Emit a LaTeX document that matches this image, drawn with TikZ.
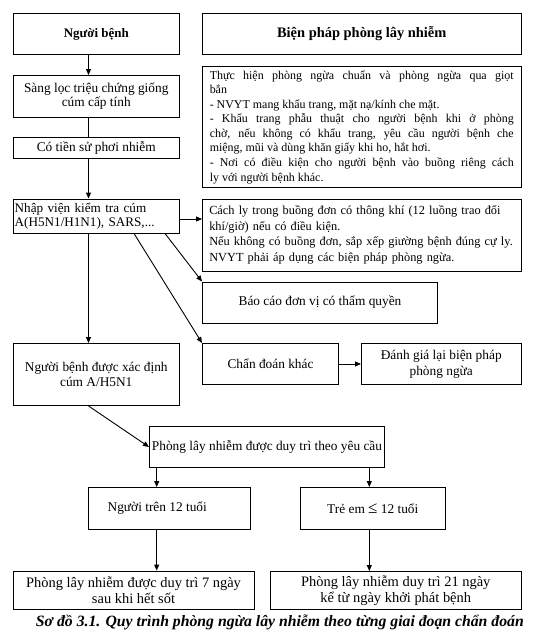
\documentclass[tikz,border=0pt]{standalone}
\usepackage{fontspec}
\setmainfont{Liberation Serif}
\usetikzlibrary{arrows.meta,calc}
\begin{document}
\begin{tikzpicture}[x=1bp,y=-1bp,
  box/.style={draw, line width=0.9bp, inner sep=2bp, align=center, font=\fontsize{13.4}{15.5}\selectfont},
  titlebox/.style={box, font=\fontsize{13}{15}\selectfont\bfseries},
  arr/.style={line width=0.9bp, -{Triangle[length=6bp,width=5bp]}},
  ln/.style={line width=0.9bp}]
\useasboundingbox (0,0) rectangle (539,635);

\node[titlebox, minimum width=166.5bp, minimum height=41bp] (nb) at (96.25,34) {Người bệnh};
\node[titlebox, minimum width=318.5bp, minimum height=41bp, font=\fontsize{14.5}{16}\selectfont\bfseries] (bp) at (361.75,34) {Biện pháp phòng lây nhiễm};

\node[box, minimum width=166.5bp, minimum height=41.5bp, font=\fontsize{13.4}{14.5}\selectfont] (sl) at (96.25,96.25) {Sàng lọc triệu chứng giống\\cúm cấp tính};
\node[box, minimum width=166.5bp, minimum height=20.5bp, inner ysep=1bp] (ct) at (96.25,147.75) {Có tiền sử phơi nhiễm};

\node[draw, line width=0.9bp, minimum width=318.5bp, minimum height=121bp, inner sep=0] (big) at (361.75,127) {};
\node[anchor=north west, inner sep=0, text width=304bp, align=justify, font=\fontsize{12}{14.57}\selectfont] (bigtxt) at ($(big.north west)+(7.5,4.5)$)
{Thực hiện phòng ngừa chuẩn và phòng ngừa qua giọt\linebreak bắn\\
- NVYT mang khẩu trang, mặt nạ/kính che mặt.\\
- Khẩu trang phẫu thuật cho người bệnh khi ở phòng\linebreak chờ, nếu không có khẩu trang, yêu cầu người bệnh che\linebreak miệng, mũi và dùng khăn giấy khi ho, hắt hơi.\\
- Nơi có điều kiện cho người bệnh vào buồng riêng cách\linebreak ly với người bệnh khác.};

\node[box, minimum width=166.5bp, minimum height=34bp, text width=163bp, inner xsep=1.5bp, inner ysep=1bp, align=left, font=\fontsize{13.2}{14.5}\selectfont] (nv) at (96.25,216) {Nhập viện kiểm tra cúm\\A(H5N1/H1N1), SARS,...};

\node[box, minimum width=318.5bp, minimum height=72bp, text width=305bp, inner xsep=6.75bp, align=left, font=\fontsize{12.4}{15.5}\selectfont] (cl) at (361.75,235)
{Cách ly trong buồng đơn có thông khí (12 luồng trao đổi\\khí/giờ) nếu có điều kiện.\\Nếu không có buồng đơn, sắp xếp giường bệnh đúng cự ly.\\NVYT phải áp dụng các biện pháp phòng ngừa.};

\node[box, minimum width=235bp, minimum height=41bp] (bc) at (320,302.5) {Báo cáo đơn vị có thẩm quyền};
\node[box, minimum width=136bp, minimum height=41bp] (cd) at (270.5,364) {Chẩn đoán khác};
\node[box, minimum width=159.5bp, minimum height=41bp, font=\fontsize{13.4}{15.7}\selectfont] (dg) at (441.25,364) {Đánh giá lại biện pháp\\phòng ngừa};
\node[box, minimum width=166.5bp, minimum height=62bp] (xd) at (96.25,374.5) {Người bệnh được xác định\\cúm A/H5N1};

\node[box, minimum width=235bp, minimum height=41bp, inner xsep=0.5bp] (pl) at (267,447) {Phòng lây nhiễm được duy trì theo yêu cầu};
\node[box, minimum width=161.5bp, minimum height=42bp] (nt) at (169.25,508.5) {Người trên 12 tuổi\hspace*{24bp}};
\node[box, minimum width=144.5bp, minimum height=42bp] (te) at (372.75,508.5) {Trẻ em {\fontsize{17}{15}\selectfont ≤} 12 tuổi};

\node[box, minimum width=241bp, minimum height=38.5bp, inner ysep=1bp, font=\fontsize{14.5}{16}\selectfont] (b1) at (133.5,590.25) {Phòng lây nhiễm được duy trì 7 ngày\\sau khi hết sốt};
\node[box, minimum width=251.5bp, minimum height=38bp, inner ysep=1bp, font=\fontsize{14.5}{16}\selectfont] (b2) at (395.75,590.5) {Phòng lây nhiễm duy trì 21 ngày\\kể từ ngày khởi phát bệnh};

\node[anchor=base east, inner sep=0, font=\fontsize{15.8}{18}\selectfont\bfseries\itshape] (cap) at (524,626) {Sơ đồ 3.1. Quy trình phòng ngừa lây nhiễm theo từng giai đoạn chẩn đoán};

\coordinate (cx1) at (88.5,0);
\coordinate (cx2) at (156.7,0);
\coordinate (cx3) at (369.3,0);
\coordinate (dx1) at (165,0);
\coordinate (dx2) at (134,0);
\coordinate (ny) at (0,219);

\draw[arr] (nb.south -| cx1) -- (sl.north -| cx1);
\draw[ln] (sl.south -| cx1) -- (ct.north -| cx1);
\draw[arr] (ct.south -| cx1) -- (nv.north -| cx1);
\draw[arr] (nv.south -| cx1) -- (xd.north -| cx1);
\draw[arr] (nv.east |- ny) -- (cl.west |- ny);
\draw[arr] (nv.south -| dx1) -- (bc.north west);
\draw[arr] (nv.south -| dx2) -- (cd.north west);
\draw[arr] (cd.east) -- (dg.west);
\draw[arr] (xd.south -| cx1) -- (pl.west);
\draw[arr] (pl.south -| cx2) -- (nt.north -| cx2);
\draw[arr] (pl.south -| cx3) -- (te.north -| cx3);
\draw[arr] (nt.south -| cx2) -- (b1.north -| cx2);
\draw[arr] (te.south -| cx3) -- (b2.north -| cx3);
\end{tikzpicture}
\end{document}
